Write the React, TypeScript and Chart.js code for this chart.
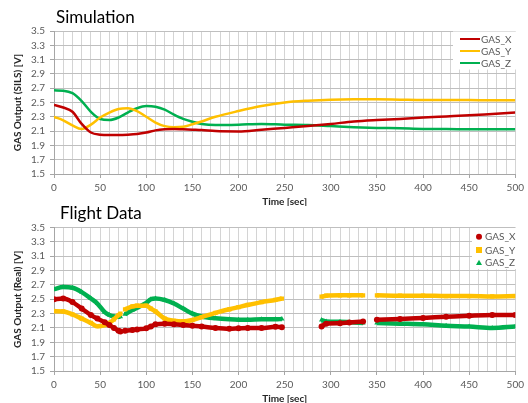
import React, { useEffect, useRef } from "react";
import { Chart, registerables } from "chart.js";

Chart.register(...registerables);

const FONT = "Lato, 'DejaVu Sans', sans-serif";

const seriesNames = ["GAS_X", "GAS_Y", "GAS_Z"];
const seriesColors = ["#C00000", "#FFC000", "#00B050"];
const markerStyles = ["circle", "rect", "triangle"];

const xTickValues = [0, 50, 100, 150, 200, 250, 300, 350, 400, 450, 500];
const xTickLabels = ["0", "50", "100", "150", "200", "250", "300", "350", "400", "450", "500"];
const yTickLabels = ["1.5", "1.7", "1.9", "2.1", "2.3", "2.5", "2.7", "2.9", "3.1", "3.3", "3.5"];

// Simulation (SILS)
const simTime = [0, 10, 20, 30, 40, 50, 60, 70, 80, 90, 100, 110, 120, 130, 140, 150, 160, 175, 200, 225, 250, 275, 300, 325, 350, 375, 400, 425, 450, 475, 500];
const simGasX = [2.465, 2.43, 2.37, 2.2, 2.08, 2.05, 2.045, 2.045, 2.05, 2.06, 2.08, 2.11, 2.125, 2.13, 2.125, 2.12, 2.115, 2.1, 2.095, 2.12, 2.145, 2.17, 2.2, 2.235, 2.255, 2.27, 2.29, 2.305, 2.32, 2.34, 2.36];
const simGasY = [2.3, 2.25, 2.18, 2.13, 2.19, 2.29, 2.36, 2.41, 2.42, 2.38, 2.3, 2.22, 2.17, 2.155, 2.16, 2.195, 2.235, 2.3, 2.38, 2.45, 2.5, 2.525, 2.54, 2.545, 2.545, 2.54, 2.535, 2.535, 2.535, 2.53, 2.53];
const simGasZ = [2.67, 2.665, 2.63, 2.52, 2.37, 2.27, 2.255, 2.29, 2.36, 2.42, 2.45, 2.44, 2.4, 2.33, 2.27, 2.23, 2.2, 2.185, 2.19, 2.2, 2.19, 2.185, 2.17, 2.155, 2.145, 2.14, 2.13, 2.13, 2.125, 2.125, 2.125];

// Flight data (null = no telemetry)
const flightTime = [0, 10, 20, 30, 40, 47, 55, 60, 65, 70, 72, 74.5, 77, 85, 90, 100, 105, 110, 120, 130, 140, 150, 160, 175, 190, 200, 210, 225, 240, 247, 270, 290, 295, 310, 320, 335, 343, 350, 375, 400, 425, 450, 475, 500];
const flightGasX = [2.5, 2.51, 2.46, 2.37, 2.28, 2.23, 2.18, 2.14, 2.1, 2.06, 2.05, null, 2.06, 2.07, 2.08, 2.095, 2.12, 2.15, 2.16, 2.15, 2.14, 2.13, 2.12, 2.1, 2.09, 2.095, 2.1, 2.1, 2.115, 2.11, null, 2.12, 2.16, 2.165, 2.175, 2.19, null, 2.215, 2.225, 2.24, 2.255, 2.27, 2.28, 2.28];
const flightGasY = [2.335, 2.33, 2.29, 2.23, 2.17, 2.125, 2.14, 2.17, 2.22, 2.28, 2.3, null, 2.36, 2.4, 2.41, 2.41, 2.37, 2.33, 2.23, 2.2, 2.19, 2.21, 2.25, 2.31, 2.36, 2.39, 2.42, 2.46, 2.49, 2.51, null, 2.535, 2.55, 2.555, 2.555, 2.555, null, 2.555, 2.55, 2.55, 2.545, 2.545, 2.54, 2.545];
const flightGasZ = [2.64, 2.67, 2.66, 2.6, 2.51, 2.44, 2.32, 2.28, 2.26, 2.255, 2.255, null, 2.29, 2.35, 2.38, 2.45, 2.5, 2.51, 2.49, 2.44, 2.37, 2.3, 2.26, 2.235, 2.22, 2.215, 2.215, 2.22, 2.22, 2.225, null, 2.21, 2.19, 2.185, 2.18, 2.17, null, 2.17, 2.16, 2.15, 2.13, 2.12, 2.1, 2.12];

const toPoints = (xs: number[], ys: (number | null)[]) => xs.map((x, i) => ({ x, y: ys[i] }));

const overlayPlugin = {
  id: "overlay",
  afterDraw(chart: any, _args: any, opts: any) {
    const ctx = chart.ctx as CanvasRenderingContext2D;
    ctx.save();
    // chart title
    ctx.font = `${opts.titleSize}px ${FONT}`;
    ctx.fillStyle = "#000000";
    ctx.textAlign = "left";
    ctx.textBaseline = "middle";
    ctx.fillText(opts.title, opts.titleX, opts.titleY);
    // legend
    const b = opts.box;
    ctx.fillStyle = "#ffffff";
    ctx.fillRect(b.x, b.y, b.w, b.h);
    ctx.font = `10px ${FONT}`;
    chart.data.datasets.forEach((ds: any, i: number) => {
      const y = opts.rows[i];
      ctx.fillStyle = ds.borderColor;
      ctx.strokeStyle = ds.borderColor;
      if (opts.kind === "line") {
        ctx.lineWidth = 2;
        ctx.beginPath();
        ctx.moveTo(opts.sampleX, y);
        ctx.lineTo(opts.sampleX + opts.sampleW, y);
        ctx.stroke();
      } else {
        const cx = opts.sampleX;
        const r = 3;
        ctx.beginPath();
        if (ds.pointStyle === "circle") {
          ctx.arc(cx, y, r, 0, Math.PI * 2);
        } else if (ds.pointStyle === "rect") {
          ctx.rect(cx - r, y - r, 2 * r, 2 * r);
        } else {
          ctx.moveTo(cx, y - r);
          ctx.lineTo(cx + r, y + r * 0.8);
          ctx.lineTo(cx - r, y + r * 0.8);
          ctx.closePath();
        }
        ctx.fill();
      }
      ctx.fillStyle = "#595959";
      ctx.fillText(ds.label, opts.textX, y + 0.5);
    });
    ctx.restore();
  },
};

function xScale() {
  return {
    type: "linear",
    min: 0,
    max: 500,
    afterFit: (s: any) => {
      s.height = 32;
    },
    ticks: {
      stepSize: 10,
      autoSkip: false,
      maxRotation: 0,
      padding: 4,
      color: "#595959",
      font: { family: FONT, size: 10 },
      callback: (v: number) => {
        const i = xTickValues.indexOf(Math.round(v));
        return i >= 0 ? xTickLabels[i] : "";
      },
    },
    grid: {
      color: "#d4d4d4",
      tickLength: 4,
      tickColor: (c: any) => (c.tick && Math.round(c.tick.value) % 50 === 0 ? "#a6a6a6" : "rgba(0,0,0,0)"),
    },
    border: { color: "#a6a6a6" },
    title: {
      display: true,
      text: "Time [sec]",
      color: "#262626",
      font: { family: FONT, size: 10, weight: "bold", lineHeight: 1 },
      padding: { top: 0, bottom: -1 },
    },
  };
}

function yScale(title: string) {
  return {
    type: "linear",
    min: 1.5,
    max: 3.5,
    afterFit: (s: any) => {
      s.width = 54;
    },
    ticks: {
      stepSize: 0.2,
      autoSkip: false,
      padding: 5,
      color: "#595959",
      font: { family: FONT, size: 10 },
      callback: (_v: number, i: number) => yTickLabels[i] ?? "",
    },
    grid: { color: "#bfbfbf", tickLength: 4, tickColor: "#a6a6a6" },
    border: { color: "#a6a6a6" },
    title: {
      display: true,
      text: title,
      color: "#262626",
      font: { family: FONT, size: 10, weight: "bold", lineHeight: 1.2 },
      padding: { top: 11.5, bottom: 0 },
    },
  };
}

export default function App() {
  const topRef = useRef<HTMLCanvasElement>(null);
  const botRef = useRef<HTMLCanvasElement>(null);

  useEffect(() => {
    const simSeries = [simGasX, simGasY, simGasZ];
    const top = new Chart(topRef.current as HTMLCanvasElement, {
      type: "scatter",
      data: {
        datasets: seriesNames.map((name, i) => ({
          label: name,
          data: toPoints(simTime, simSeries[i]),
          showLine: true,
          borderColor: seriesColors[i],
          backgroundColor: seriesColors[i],
          borderWidth: 2.5,
          pointRadius: 0,
          cubicInterpolationMode: "monotone",
        })),
      },
      options: {
        animation: false,
        responsive: false,
        devicePixelRatio: 1,
        layout: { padding: { left: 0, right: 10, top: 31, bottom: 0 } },
        scales: { x: xScale(), y: yScale("GAS Output (SILS) [V]") } as any,
        plugins: {
          legend: { display: false },
          tooltip: { enabled: false },
          overlay: {
            title: "Simulation",
            titleSize: 17,
            titleX: 56,
            titleY: 18,
            kind: "line",
            box: { x: 453, y: 31.5, w: 64, h: 38 },
            rows: [39, 51, 63],
            sampleX: 460,
            sampleW: 20,
            textX: 481,
          },
        } as any,
      },
      plugins: [overlayPlugin],
    } as any);

    const flightSeries = [flightGasX, flightGasY, flightGasZ];
    const bot = new Chart(botRef.current as HTMLCanvasElement, {
      type: "scatter",
      data: {
        datasets: seriesNames.map((name, i) => ({
          label: name,
          data: toPoints(flightTime, flightSeries[i]),
          showLine: true,
          spanGaps: false,
          borderColor: seriesColors[i],
          backgroundColor: seriesColors[i],
          borderWidth: 4.5,
          pointStyle: markerStyles[i],
          pointRadius: 3,
          pointBorderWidth: 0,
          cubicInterpolationMode: "monotone",
        })),
      },
      options: {
        animation: false,
        responsive: false,
        devicePixelRatio: 1,
        layout: { padding: { left: 0, right: 10, top: 29.5, bottom: 0 } },
        scales: { x: xScale(), y: yScale("GAS Output (Real) [V]") } as any,
        plugins: {
          legend: { display: false },
          tooltip: { enabled: false },
          overlay: {
            title: "Flight Data",
            titleSize: 17,
            titleX: 60,
            titleY: 16,
            kind: "marker",
            box: { x: 472, y: 30, w: 45, h: 41 },
            rows: [38.7, 52, 64.7],
            sampleX: 479,
            sampleW: 0,
            textX: 485,
          },
        } as any,
      },
      plugins: [overlayPlugin],
    } as any);

    return () => {
      top.destroy();
      bot.destroy();
    };
  }, []);

  return (
    <div style={{ position: "absolute", left: 0, top: 0, width: 528, height: 403, overflow: "hidden", background: "#ffffff" }}>
      <canvas ref={topRef} width={528} height={206} style={{ position: "absolute", left: 0, top: 0, display: "block" }} />
      <canvas ref={botRef} width={528} height={205} style={{ position: "absolute", left: 0, top: 198, display: "block" }} />
    </div>
  );
}
